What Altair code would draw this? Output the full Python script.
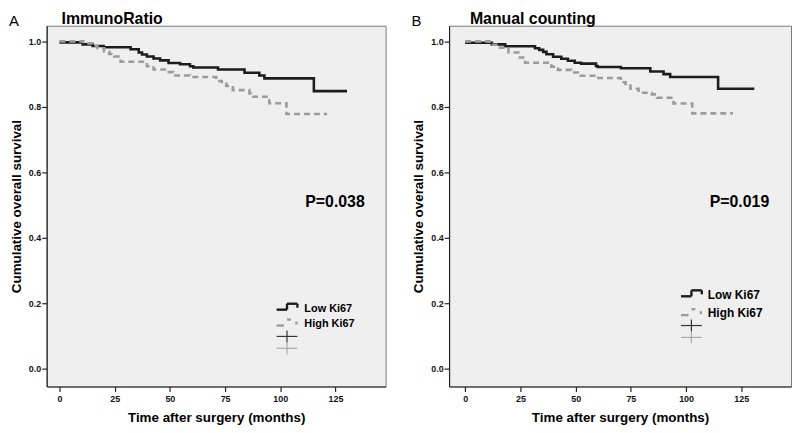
import altair as alt
import pandas as pd

# ---------------- data ----------------
groups = ["Low Ki67", "High Ki67"]
colors = ["#1c1c1c", "#9c9c9c"]

# Panel A: ImmunoRatio
a_low_t = [0, 10.5, 15, 20, 32.2, 35.9, 37.4, 39.6, 42.6, 45.6, 49.4, 54.6, 59.1, 60.6, 71.8, 83.8, 90.5, 92.8, 115.2, 130.2]
a_low_s = [0.997, 0.991, 0.986, 0.982, 0.976, 0.966, 0.960, 0.954, 0.948, 0.942, 0.934, 0.930, 0.924, 0.920, 0.914, 0.904, 0.896, 0.887, 0.848, 0.848]
a_high_t = [0, 10.8, 15, 17.2, 20.2, 22.5, 24.7, 27.7, 39.6, 42.6, 48.6, 51.6, 59.1, 71, 73.5, 75.5, 78.5, 86, 86.8, 95, 102.8, 121.2]
a_high_s = [1.0, 0.994, 0.986, 0.979, 0.969, 0.962, 0.954, 0.938, 0.924, 0.914, 0.906, 0.896, 0.891, 0.879, 0.872, 0.864, 0.851, 0.841, 0.831, 0.811, 0.778, 0.778]

# Panel B: Manual counting
b_low_t = [0, 12.1, 18.1, 31.6, 33.5, 35.3, 36.8, 39.8, 43.5, 46.5, 49.6, 52.5, 59.2, 60, 70.5, 83.8, 89.8, 92.8, 114.5, 130.9]
b_low_s = [0.996, 0.991, 0.985, 0.979, 0.974, 0.968, 0.961, 0.953, 0.947, 0.941, 0.935, 0.932, 0.925, 0.922, 0.918, 0.908, 0.900, 0.891, 0.855, 0.855]
b_high_t = [0, 11, 15.1, 19.6, 24.1, 27.1, 39, 42, 48, 51, 58.5, 70.5, 72.6, 74.8, 78.5, 84.5, 86.8, 94.3, 102.8, 121.2]
b_high_s = [1.0, 0.990, 0.981, 0.966, 0.951, 0.935, 0.923, 0.913, 0.905, 0.895, 0.888, 0.875, 0.865, 0.855, 0.843, 0.838, 0.828, 0.810, 0.780, 0.780]

panel_letters = ["A", "B"]
panel_titles = ["ImmunoRatio", "Manual counting"]
p_values = ["P=0.038", "P=0.019"]

x_ticks = [0, 25, 50, 75, 100, 125]
y_ticks = [0.0, 0.2, 0.4, 0.6, 0.8, 1.0]

x_title = "Time after surgery (months)"
y_title = "Cumulative overall survival"

# ---------------- layout ----------------
H = 364
YDOM = [-0.055, 1.048]
FONT = "Liberation Sans"
one = pd.DataFrame({"k": [0]})


def curve_frame(low_t, low_s, high_t, high_s):
    rows = []
    for t, s in zip(low_t, low_s):
        rows.append({"group": groups[0], "month": t, "surv": s})
    for t, s in zip(high_t, high_s):
        rows.append({"group": groups[1], "month": t, "surv": s})
    return pd.DataFrame(rows)


def seg(x1, y1, x2, y2, color, width=2.2, dash=None):
    kw = dict(color=color, strokeWidth=width)
    if dash is not None:
        kw["strokeDash"] = dash
    return alt.Chart(one).mark_rule(**kw).encode(
        x=alt.value(x1), x2=alt.value(x2), y=alt.value(y1), y2=alt.value(y2)
    )


def txt(x, y, s, size, weight="normal", align="left", baseline="alphabetic"):
    return alt.Chart(one).mark_text(
        font=FONT, fontSize=size, fontWeight=weight, align=align,
        baseline=baseline, color="#000000"
    ).encode(x=alt.value(x), y=alt.value(y), text=alt.value(s))


def legend(lx, y_low, y_high, y_c1, y_c2, tx, fsize, w=21, rise=6):
    xm = lx + w / 2
    xr = lx + w
    parts = [
        # low Ki67 step glyph
        seg(lx, y_low + 1, xm, y_low + 1, colors[0], 2.4),
        seg(xm, y_low + 1, xm, y_low + 1 - rise, colors[0], 2.4),
        seg(xm, y_low + 1 - rise, xr, y_low + 1 - rise, colors[0], 2.4),
        seg(xr, y_low + 1 - rise, xr, y_low - 1, colors[0], 2.4),
        # high Ki67 dashed step glyph
        seg(lx, y_high + 2, xm - 3, y_high + 2, colors[1], 2.4),
        seg(xm, y_high + 2 - rise, xm + 4, y_high + 2 - rise, colors[1], 2.4),
        seg(xr - 1, y_high - 2, xr - 1, y_high + 1, colors[1], 2.4),
        # censor crosses
        seg(lx, y_c1, xr, y_c1, "#333333", 1.2),
        seg(xm, y_c1 - 6, xm, y_c1 + 6, "#333333", 1.2),
        seg(lx, y_c2, xr, y_c2, "#aaaaaa", 1.2),
        seg(xm, y_c2 - 6, xm, y_c2 + 6, "#aaaaaa", 1.2),
        txt(tx, y_low, groups[0], fsize, "bold", baseline="middle"),
        txt(tx, y_high, groups[1], fsize, "bold", baseline="middle"),
    ]
    return parts


def panel(i, df, width, xdom, p_x, leg, title_dx):
    base = alt.Chart(df)
    lines = base.mark_line(interpolate="step-after", strokeWidth=2.6).encode(
        x=alt.X(
            "month:Q",
            scale=alt.Scale(domain=xdom, nice=False, zero=False),
            axis=alt.Axis(values=x_ticks, format="d", title=x_title,
                          labelPadding=3, titlePadding=7),
        ),
        y=alt.Y(
            "surv:Q",
            scale=alt.Scale(domain=YDOM, nice=False, zero=False),
            axis=alt.Axis(values=y_ticks, format=".1f", title=y_title,
                          labelPadding=1, titlePadding=5),
        ),
        color=alt.Color("group:N", scale=alt.Scale(domain=groups, range=colors), legend=None),
        strokeDash=alt.StrokeDash("group:N", scale=alt.Scale(domain=groups, range=[[1, 0], [6, 4]]), legend=None),
        order=alt.Order("month:Q"),
    )
    ptext = alt.Chart(one).mark_text(
        font=FONT, fontSize=16, fontWeight="bold", align="left", baseline="middle", color="#000000"
    ).encode(x=alt.datum(p_x), y=alt.datum(0.51), text=alt.value(p_values[i]))
    letter = txt(-38, 0, panel_letters[i], 15)
    title = txt(title_dx, -2, panel_titles[i], 16, "bold")
    layers = [lines, ptext, letter, title] + legend(*leg)
    return alt.layer(*layers).properties(width=width, height=H)


dfA = curve_frame(a_low_t, a_low_s, a_high_t, a_high_s)
dfB = curve_frame(b_low_t, b_low_s, b_high_t, b_high_s)

left = panel(0, dfA, 342, [-5.8, 147.7], 111.3, (232, 285.5, 300.5, 313.5, 325.5, 260, 11), 15)
right = panel(1, dfB, 345, [-7.3, 147.5], 110.7, (234, 272, 290, 302.5, 314.5, 261, 12), 21)

chart = (
    alt.hconcat(left, right, spacing=24)
    .properties(padding={"left": 0, "top": 0, "right": 0, "bottom": 0}, background="#ffffff")
    .configure_view(fill="#efefef", stroke="#7a7a7a", strokeWidth=1)
    .configure_axis(
        domainColor="#222222", domainWidth=1.2, tickColor="#222222", tickSize=5, tickWidth=1.2,
        grid=False, labelFont=FONT, labelFontSize=9, labelFontWeight="bold", labelColor="#111111",
        titleFont=FONT, titleFontSize=13.5, titleFontWeight="bold", titleColor="#000000",
    )
)

chart.save("out.html", embed_options={"renderer": "svg", "actions": False})
